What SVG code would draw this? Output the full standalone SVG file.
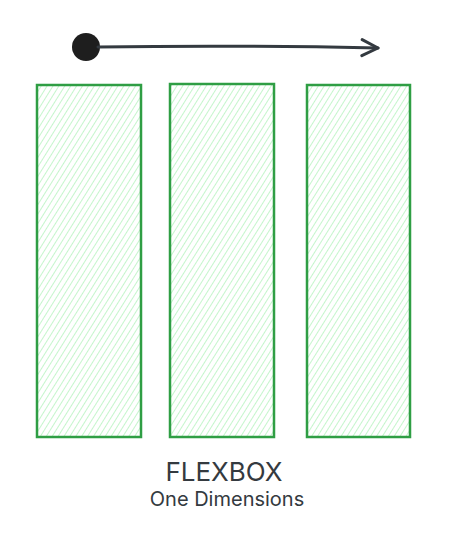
<svg xmlns="http://www.w3.org/2000/svg" width="460" height="534" viewBox="0 0 460 534">
<defs>
<pattern id="hatch" patternUnits="userSpaceOnUse" width="5" height="8" patternTransform="rotate(32)">
<line x1="0" y1="0" x2="0" y2="8" stroke="#b2f2bb" stroke-width="1.5"/>
</pattern>
<marker id="arr" viewBox="0 0 20 20" refX="18" refY="10" markerWidth="20" markerHeight="20" markerUnits="userSpaceOnUse" orient="auto">
<path d="M2 2 L18 10 L2 18" fill="none" stroke="#343a40" stroke-width="3" stroke-linecap="round" stroke-linejoin="round"/>
</marker>
<style>
.box{fill:url(#hatch);stroke:#2f9e44;stroke-width:2.5}
.t{font-family:Inter,"Liberation Sans",sans-serif;fill:#343a40;text-anchor:middle}
</style>
</defs>
<rect width="460" height="534" fill="#ffffff"/>
<g id="box1"><rect class="box" x="37" y="85" width="104" height="352"/></g>
<g id="box2"><rect class="box" x="170" y="84" width="104" height="353"/></g>
<g id="box3"><rect class="box" x="307" y="85" width="103" height="352"/></g>
<g id="connectors">
<circle cx="86" cy="47" r="14" fill="#1e1e1e"/>
<path d="M98 47 Q240 45 378 48" fill="none" stroke="#343a40" stroke-width="3" stroke-linecap="round" marker-end="url(#arr)"/>
</g>
<g id="label">
<text class="t" x="224" y="481" font-size="26">FLEXBOX</text>
<text class="t" x="227" y="506" font-size="20">One Dimensions</text>
</g>
</svg>
